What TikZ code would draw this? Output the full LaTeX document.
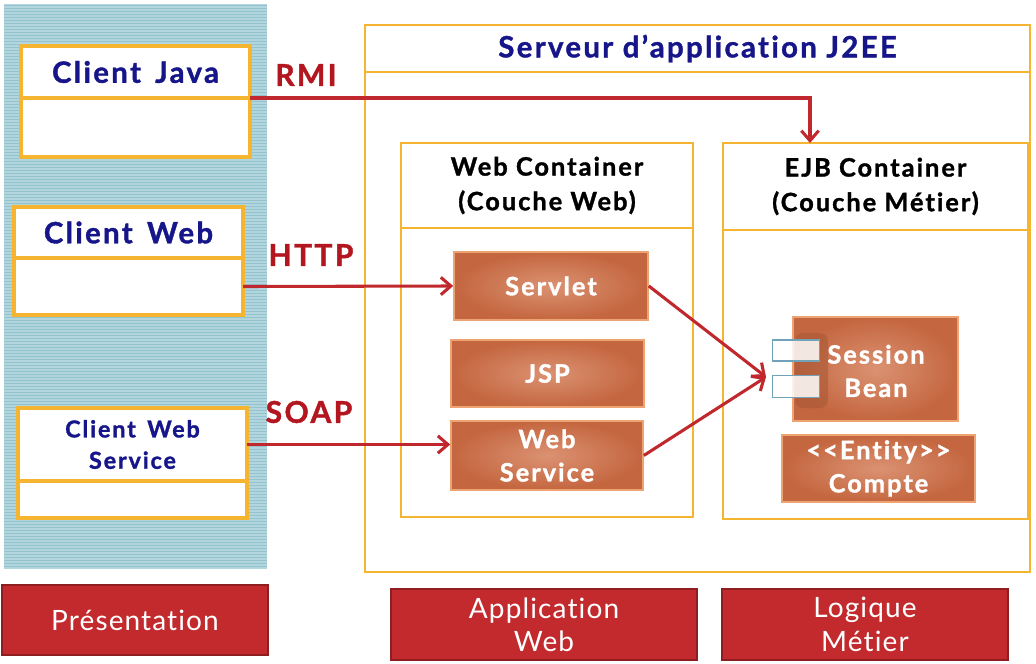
\documentclass[tikz,border=0pt]{standalone}
\usepackage{fontspec}
\setmainfont{Lato}[Ligatures=NoCommon]
\newfontfamily\gb{Lato}[LetterSpace=8, Ligatures=NoCommon, BoldFeatures={FakeBold=1.3}]
\newfontfamily\gr{Lato}[LetterSpace=4, Ligatures=NoCommon]
\usetikzlibrary{arrows.meta}
\definecolor{ybord}{HTML}{F5B530}
\definecolor{navy}{HTML}{16168A}
\definecolor{rlab}{HTML}{B3161E}
\definecolor{arr}{HTML}{C0282D}
\definecolor{panel}{HTML}{B3D5DE}
\definecolor{stripe}{HTML}{93C3CF}
\definecolor{orin}{HTML}{DB9272}
\definecolor{orout}{HTML}{C4663F}
\definecolor{orbord}{HTML}{EDA472}
\definecolor{redbox}{HTML}{C32A2E}
\definecolor{redbord}{HTML}{8E1E20}
\begin{document}
\begin{tikzpicture}[x=0.75pt,y=-0.75pt,
  sz/.style 2 args={minimum width=#1*0.75pt, minimum height=#2*0.75pt},
  cbox/.style={draw=ybord, line width=2.6pt, fill=white, inner sep=0pt, outer sep=0pt},
  sbox/.style={draw=ybord, line width=2pt, fill=white, inner sep=0pt, outer sep=0pt},
  ctext/.style={text=navy, font=\gb\bfseries\fontsize{22}{25}\selectfont},
  ctexts/.style={text=navy, font=\gb\bfseries\fontsize{17.5}{23.5}\selectfont, align=center},
  ktext/.style={text=black, font=\gb\bfseries\fontsize{19}{26}\selectfont, align=center},
  proto/.style={text=rlab, font=\gb\bfseries\fontsize{22.5}{25}\selectfont, inner sep=0pt},
  obox/.style={draw=orbord, line width=1.2pt, inner color=orin, outer color=orout, inner sep=0pt,
     text=white, font=\gb\bfseries\fontsize{19}{25}\selectfont, align=center},
  rbox/.style={draw=redbord, line width=0.8pt, fill=redbox, inner sep=0pt, text=white,
     font=\gr\fontsize{21}{25}\selectfont, align=center},
  conn/.style={draw=arr, line width=2.3pt, -{Straight Barb[length=7.5pt,width=13pt,line width=2.3pt]}}
]
\useasboundingbox (0,0) rectangle (1036,664);
\fill[white] (0,0) rectangle (1036,664);
% blue hatched panel
\fill[panel] (4,4) rectangle (267,569);
\foreach \yy in {5.5,8.5,...,568} { \draw[stripe, line width=0.7pt] (4,\yy) -- (267,\yy); }

% clients
\node[cbox, sz={229}{52}, ctext] (cjt) at (135.5,72) {Client\, Java};
\node[cbox, sz={229}{59}] (cjb) at (135.5,127.5) {};
\node[cbox, sz={229}{51}, ctext] (cwt) at (128.5,232.5) {Client\, Web};
\node[cbox, sz={229}{57}] (cwb) at (128.5,286.5) {};
\node[cbox, sz={229}{73}, ctexts] (cwst) at (132.5,444.5) {Client\, Web\\Service};
\node[cbox, sz={229}{37}] (cwsb) at (132.5,499.5) {};

% server
\node[sbox, sz={665}{47}, text=navy, font=\gb\bfseries\fontsize{22}{25}\selectfont] (srvt) at (697.5,48.5) {Serveur d’application J2EE};
\node[sbox, sz={665}{500}] (srvb) at (697.5,322) {};
\node[sbox, sz={292}{85}, ktext] (wct) at (547,185.5) {Web Container\\(Couche Web)};
\node[sbox, sz={292}{289}] (wcb) at (547,372.5) {};
\node[sbox, sz={305}{87}, ktext] (ejbt) at (875.5,186.5) {EJB Container\\(Couche M\'etier)};
\node[sbox, sz={305}{289}] (ejbb) at (875.5,374.5) {};

% components
\node[obox, sz={194}{68}] (servlet) at (551,286) {Servlet};
\node[obox, sz={193}{67}] (jsp) at (547.5,373.5) {JSP};
\node[obox, sz={192}{69}] (ws) at (547,455.5) {Web\\Service};
\node[obox, sz={165}{104}] (sb) at (875.5,369) {};
\fill[orout!85!black, opacity=0.55, rounded corners=6pt] (795,333) rectangle (828,408);
\node[text=white, font=\gb\bfseries\fontsize{19}{25}\selectfont, align=center] (sbt) at (876,371) {Session\\Bean};
\node[draw=gray!60!cyan, line width=0.8pt, fill=white, fill opacity=0.85, sz={47}{21}, inner sep=0pt] (p1) at (796,350.5) {};
\node[draw=gray!60!cyan, line width=0.8pt, fill=white, fill opacity=0.85, sz={47}{22}, inner sep=0pt] (p2) at (796,386.5) {};
\node[obox, sz={193}{67}] (ent) at (878.5,468.5) {<{}<Entity>{}>\\Compte};

% protocol labels
\node[proto] (rmi) at (306,75) {RMI};
\node[proto] (http) at (311,255) {HTTP};
\node[proto] (soap) at (309,412) {SOAP};

% connectors
\coordinate (rmiend) at (810,143);
\coordinate (sbin) at (766,377);
\draw[conn] (cjt.south east) -| (rmiend);
\draw[conn] (cwb.east) -- (servlet.west);
\draw[conn] (cwst.east) -- (cwst.east -| ws.west);
\draw[conn] (servlet.east) -- (sbin);
\draw[conn] (ws.east) -- (sbin);

% layer labels
\node[rbox, sz={266}{70}] (pres) at (135,620) {Pr\'esentation};
\node[rbox, sz={306}{71}] (appw) at (544,624.5) {Application\\Web};
\node[rbox, sz={286}{71}] (logm) at (865,624.5) {Logique\\M\'etier};
\end{tikzpicture}
\end{document}
